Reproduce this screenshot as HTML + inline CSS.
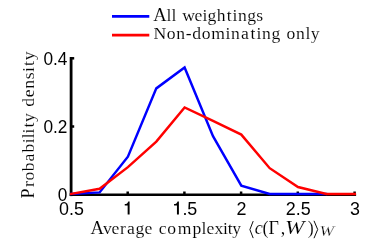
<!DOCTYPE html>
<html>
<head>
<meta charset="utf-8">
<title>Probability density of average complexity</title>
<style>
  html, body { margin: 0; padding: 0; background: #ffffff; }
  body { width: 390px; height: 248px; overflow: hidden; }
  svg { display: block; will-change: transform; }
  .sans { font-family: "Liberation Sans", sans-serif; font-size: 17.9px; fill: #000; }
  .serif { font-family: "Liberation Serif", serif; font-size: 17.6px; fill: #000; stroke: #fff; stroke-width: 0.12px; }
  .it { font-style: italic; }
  .cap { font-size: 17.6px; }
  .capa { font-size: 18.4px; }
  .m { font-size: 18px; }
</style>
</head>
<body>
<svg width="390" height="248" viewBox="0 0 390 248">
  <rect x="0" y="0" width="390" height="248" fill="#ffffff"/>

  <!-- legend -->
  <line x1="112" y1="16.3" x2="149.3" y2="16.3" stroke="#0000ff" stroke-width="2.7"/>
  <line x1="112" y1="35.1" x2="149.3" y2="35.1" stroke="#ff0000" stroke-width="2.7"/>
  <text class="serif" x="153.14 166.53 171.46 177.12 182.33 194.62 202.49 207.44 216.80 226.65 232.56 238.01 247.37 256.28" y="20.6"><tspan style="font-size:18.6px">A</tspan>ll weightings</text>
  <text class="serif" x="153.43 166.75 176.23 185.68 192.19 201.67 211.19 225.56 231.09 241.07 250.51 256.50 262.03 271.51 281.18 286.46 295.94 305.38 310.66" y="39.1"><tspan style="font-size:17.7px">N</tspan>on-dominating only</text>

  <!-- axes -->
  <line x1="71.1" y1="57" x2="71.1" y2="196.1" stroke="#000" stroke-width="2.8"/>
  <line x1="69.7" y1="194.75" x2="356.1" y2="194.75" stroke="#000" stroke-width="2.7"/>
  <!-- y ticks -->
  <line x1="70" y1="58.3" x2="74.2" y2="58.3" stroke="#000" stroke-width="2.5"/>
  <line x1="70" y1="126.5" x2="74.2" y2="126.5" stroke="#000" stroke-width="2.5"/>
  <!-- x ticks -->
  <line x1="127.7" y1="191.5" x2="127.7" y2="195.5" stroke="#000" stroke-width="2.5"/>
  <line x1="184.4" y1="191.5" x2="184.4" y2="195.5" stroke="#000" stroke-width="2.5"/>
  <line x1="241.1" y1="191.5" x2="241.1" y2="195.5" stroke="#000" stroke-width="2.5"/>
  <line x1="297.8" y1="191.5" x2="297.8" y2="195.5" stroke="#000" stroke-width="2.5"/>
  <line x1="354.6" y1="191.5" x2="354.6" y2="195.5" stroke="#000" stroke-width="2.5"/>

  <!-- data -->
  <polyline fill="none" stroke="#0000ff" stroke-width="2.45" stroke-linejoin="miter" stroke-linecap="square"
    points="71.2,193.9 99.6,192.4 127.9,156.7 156.3,88.4 184.6,67.5 213,136.1 241.3,185.7 269.7,193.9 326,193.9"/>
  <polyline fill="none" stroke="#ff0000" stroke-width="2.45" stroke-linejoin="miter" stroke-linecap="square"
    points="71.2,193.9 99.6,188.8 127.9,167.1 156.3,141.6 184.6,107.4 213,120.9 241.3,134.6 269.7,168.2 298,187 326.4,193.9 354.8,193.9"/>

  <!-- tick labels -->
  <g class="sans">
  <text transform="translate(67.4,65) scale(0.965,1.07)" text-anchor="end">0.4</text>
  <text transform="translate(67.4,133.2) scale(0.965,1.07)" text-anchor="end">0.2</text>
  <text transform="translate(67.4,201.3) scale(0.965,1.07)" text-anchor="end">0</text>
  <text transform="translate(71.5,214.7) scale(1,1.07)" text-anchor="middle">0.5</text>
  <path d="M-1.95,0 H0 V-13.2 H-1.35 C-1.75,-11.5 -2.95,-10.7 -4.85,-10.6 V-9.1 H-1.95 Z" transform="translate(129.6,214.6)" fill="#000"/>
  <path d="M-1.95,0 H0 V-13.2 H-1.35 C-1.75,-11.5 -2.95,-10.7 -4.85,-10.6 V-9.1 H-1.95 Z" transform="translate(178.9,214.6)" fill="#000"/>
  <text transform="translate(182.4,214.7) scale(1,1.07)">.5</text>
  <text transform="translate(241.6,214.7) scale(1,1.07)" text-anchor="middle">2</text>
  <text transform="translate(298.3,214.7) scale(1,1.07)" text-anchor="middle">2.5</text>
  <text transform="translate(355.1,214.7) scale(1,1.07)" text-anchor="middle">3</text>
  </g>

  <!-- y label -->
  <g transform="translate(34.0,199.6) rotate(-90)">
    <text class="serif" x="1.02 12.58 19.00 28.34 38.17 47.01 56.34 61.26 66.17 72.07 77.73" y="0"><tspan style="font-size:18px">P</tspan>robability</text>
    <text class="serif" x="92.91 102.42 110.94 120.48 127.52 133.53 139.34" y="0">density</text>
  </g>

  <!-- x label -->
  <text class="serif" x="90.61 102.89 111.60 120.07 127.09 135.56 144.51" y="233.7"><tspan style="font-size:18.6px">A</tspan>verage</text>
  <text class="serif" x="158.84 167.15 177.65 192.50 201.40 206.49 214.60 223.00 227.80 232.15" y="233.7">complexity</text>
  <polyline fill="none" stroke="#000" stroke-width="0.95" points="253.2,221.1 249.9,229.6 253.2,238.1"/>
  <text class="serif it m" x="254.7" y="233.7">c</text>
  <text class="serif m" x="262.4" y="233.7">(</text>
  <text class="serif m" x="268.4" y="233.7">Γ</text>
  <text class="serif m" x="280.8" y="233.7">,</text>
  <text class="serif it m" x="285.0" y="233.7" textLength="19.4" lengthAdjust="spacingAndGlyphs">W</text>
  <text class="serif m" x="307.7" y="233.7">)</text>
  <polyline fill="none" stroke="#000" stroke-width="0.95" points="314,220.8 317.7,229.5 314,238.2"/>
  <text class="serif it" x="319.4" y="236.0" style="font-size:13.9px;stroke-width:0.25px" textLength="14.7" lengthAdjust="spacingAndGlyphs">W</text>
</svg>
</body>
</html>
